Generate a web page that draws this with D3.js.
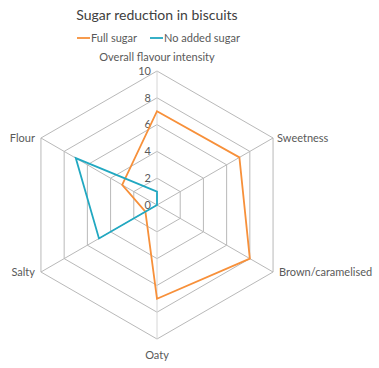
<!DOCTYPE html>
<html>
<head>
<meta charset="utf-8">
<script src="https://cdn.jsdelivr.net/npm/d3@7"></script>
<style>
  body { margin: 0; background: #fff; }
  svg text { font-family: Lato, "Open Sans", sans-serif; fill: #595959; }
</style>
</head>
<body>
<div id="chart"></div>
<script>
const categories = ["Overall flavour intensity", "Sweetness", "Brown/caramelised", "Oaty", "Salty", "Flour"];
const fullSugar = [7, 7.1, 8, 7, 1, 3];
const noAddedSugar = [1, 0, 0, 0, 5, 7];
const ticks = [0, 2, 4, 6, 8, 10];
const seriesNames = ["Full sugar", "No added sugar"];
const seriesColors = ["#f7903a", "#21a8c1"];

const width = 379, height = 368;
const cx = 157, cy = 205, radius = 134;

const svg = d3.select("#chart").append("svg")
    .attr("width", width)
    .attr("height", height);

const r = d3.scaleLinear().domain([0, 10]).range([0, radius]);
const angle = d3.scaleLinear().domain([0, categories.length]).range([0, 2 * Math.PI]);

const g = svg.append("g").attr("transform", "translate(" + cx + "," + cy + ")");

// rings
const ring = d3.lineRadial()
    .angle((d, i) => angle(i))
    .radius(d => r(d))
    .curve(d3.curveLinearClosed);

g.selectAll(".ring")
    .data(ticks.slice(1))
    .enter().append("path")
    .attr("class", "ring")
    .attr("d", t => ring(categories.map(() => t)))
    .attr("fill", "none")
    .attr("stroke", "#b9b9b9")
    .attr("stroke-width", 1);

// spokes
g.selectAll(".spoke")
    .data(categories)
    .enter().append("line")
    .attr("class", "spoke")
    .attr("x1", 0).attr("y1", 0)
    .attr("x2", (d, i) => r(10) * Math.sin(angle(i)))
    .attr("y2", (d, i) => -r(10) * Math.cos(angle(i)))
    .attr("stroke", (d, i) => i === 0 || i === 3 ? "#d6d6d6" : "#b9b9b9")
    .attr("stroke-width", 1);

// tick labels
g.selectAll(".tick")
    .data(ticks)
    .enter().append("text")
    .attr("class", "tick")
    .attr("x", -6)
    .attr("y", d => -r(d))
    .attr("dy", "0.35em")
    .attr("text-anchor", "end")
    .style("font-size", "11px")
    .text(d => d);

// series
[fullSugar, noAddedSugar].forEach((vals, k) => {
  g.append("path")
      .attr("d", ring(vals))
      .attr("fill", "none")
      .attr("stroke", seriesColors[k])
      .attr("stroke-width", 1.8)
      .attr("stroke-linejoin", "miter");
});

// category labels
const labelPos = [
  {dx: 0, dy: -14, anchor: "middle"},
  {dx: 4, dy: 0, anchor: "start"},
  {dx: 6, dy: 0, anchor: "start"},
  {dx: 0, dy: 16, anchor: "middle"},
  {dx: -6, dy: 0, anchor: "end"},
  {dx: -6, dy: 0, anchor: "end"}
];
g.selectAll(".cat")
    .data(categories)
    .enter().append("text")
    .attr("class", "cat")
    .attr("x", (d, i) => r(10) * Math.sin(angle(i)) + labelPos[i].dx)
    .attr("y", (d, i) => -r(10) * Math.cos(angle(i)) + labelPos[i].dy)
    .attr("dy", "0.35em")
    .attr("text-anchor", (d, i) => labelPos[i].anchor)
    .style("font-size", "11px")
    .text(d => d);

// title
svg.append("text")
    .attr("x", cx)
    .attr("y", 20)
    .attr("text-anchor", "middle")
    .style("font-size", "14px")
    .style("fill", "#404040")
    .text("Sugar reduction in biscuits");

// legend
const legend = svg.append("g").attr("transform", "translate(77,38)");
const lx = [0, 73];
seriesNames.forEach((name, k) => {
  legend.append("line")
      .attr("x1", lx[k]).attr("x2", lx[k] + 13)
      .attr("y1", 0).attr("y2", 0)
      .attr("stroke", seriesColors[k])
      .attr("stroke-width", 1.8);
  legend.append("text")
      .attr("x", lx[k] + 14)
      .attr("y", 0)
      .attr("dy", "0.35em")
      .style("font-size", "11px")
      .text(name);
});
</script>
</body>
</html>
